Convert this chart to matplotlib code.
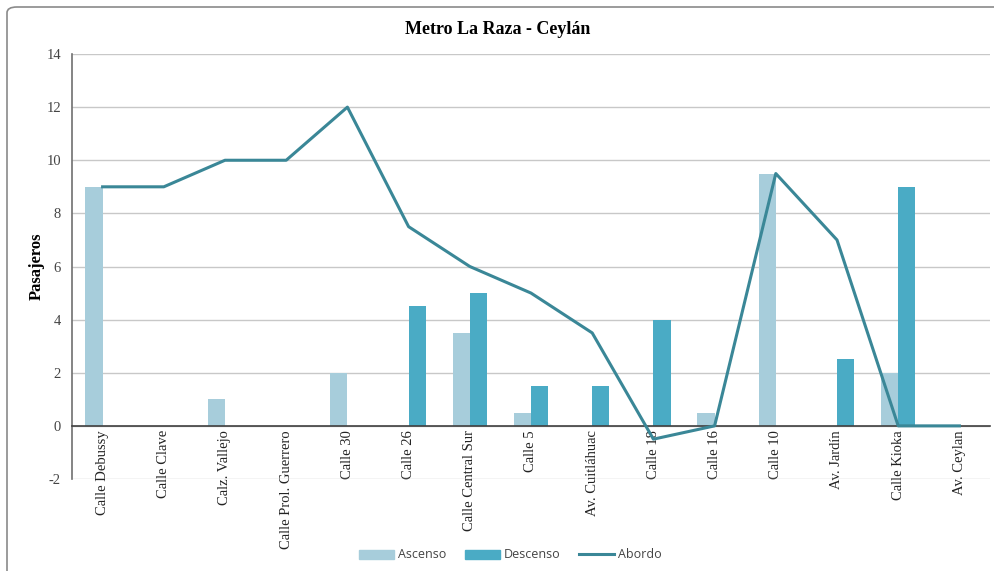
import matplotlib
matplotlib.use("Agg")
import matplotlib.pyplot as plt
import numpy as np
from matplotlib.patches import FancyBboxPatch
from matplotlib.lines import Line2D
from matplotlib.patches import Patch

stations = ["Calle Debussy", "Calle Clave", "Calz. Vallejo", "Calle Prol. Guerrero",
            "Calle 30", "Calle 26", "Calle Central Sur", "Calle 5", "Av. Cuitláhuac",
            "Calle 18", "Calle 16", "Calle 10", "Av. Jardín", "Calle Kioka", "Av. Ceylan"]
ascenso = [9, 0, 1, 0, 2, 0, 3.5, 0.5, 0, 0, 0.5, 9.5, 0, 2, 0]
descenso = [0, 0, 0, 0, 0, 4.5, 5, 1.5, 1.5, 4, 0, 0, 2.5, 9, 0]
abordo = [9, 9, 10, 10, 12, 7.5, 6, 5, 3.5, -0.5, 0, 9.5, 7, 0, 0]
yticks = [-2, 0, 2, 4, 6, 8, 10, 12, 14]

c_asc = "#A7CDDB"
c_desc = "#4AABC5"
c_line = "#3A8797"
serif = "Liberation Serif"

fig = plt.figure(figsize=(9.95, 5.71), dpi=100)
ax = fig.add_axes([72/995, 1-479/571, (990-72)/995, (479-54)/571])

x = np.arange(len(stations))
w = 0.28
ax.bar(x - w/2, ascenso, w, color=c_asc, zorder=2)
ax.bar(x + w/2, descenso, w, color=c_desc, zorder=2)
ax.plot(x, abordo, color=c_line, lw=2.2, zorder=3)

ax.set_xlim(-0.5, len(stations) - 0.5)
ax.set_ylim(-2, 14)
ax.set_yticks(yticks)
ax.set_yticklabels([str(v) for v in yticks], fontfamily=serif, fontsize=10.5, color="#444444")
ax.yaxis.grid(True, color="#C8C8C8", lw=1, zorder=0)
ax.set_axisbelow(True)
for s in ["top", "right"]:
    ax.spines[s].set_visible(False)
ax.spines["left"].set_color("#707070")
ax.spines["left"].set_linewidth(1.2)
ax.spines["bottom"].set_position(("data", 0))
ax.spines["bottom"].set_color("#404040")
ax.spines["bottom"].set_linewidth(1.2)
ax.tick_params(axis="both", length=0, pad=8)
ax.set_xticks(x)
ax.set_xticklabels(stations, rotation=90, fontfamily=serif, fontsize=10.5, color="#222222")
ax.tick_params(axis="x", pad=3)

ax.set_ylabel("Pasajeros", fontfamily=serif, fontweight="bold", fontsize=12, labelpad=1)
fig.text(0.5, 1-30/571, "Metro La Raza - Ceylán", ha="center", va="center",
         fontfamily=serif, fontweight="bold", fontsize=13)

handles = [Patch(color=c_asc), Patch(color=c_desc), Line2D([], [], color=c_line, lw=2.2)]
fig.legend(handles, ["Ascenso", "Descenso", "Abordo"], loc="center", ncol=3,
           bbox_to_anchor=(510/995, 1-555/571), frameon=False,
           prop={"family": "Open Sans", "size": 9}, handlelength=2.8, columnspacing=1.5,
           handletextpad=0.3, labelcolor="#444444")

border = FancyBboxPatch((7/995, -0.05), 1.2, 1 - 7/571 + 0.05,
                        boxstyle="round,pad=0,rounding_size=0.01",
                        transform=fig.transFigure, fill=False, ec="#8A8A8A", lw=1.2)
fig.patches.append(border)

fig.savefig("out.png", dpi=100)
